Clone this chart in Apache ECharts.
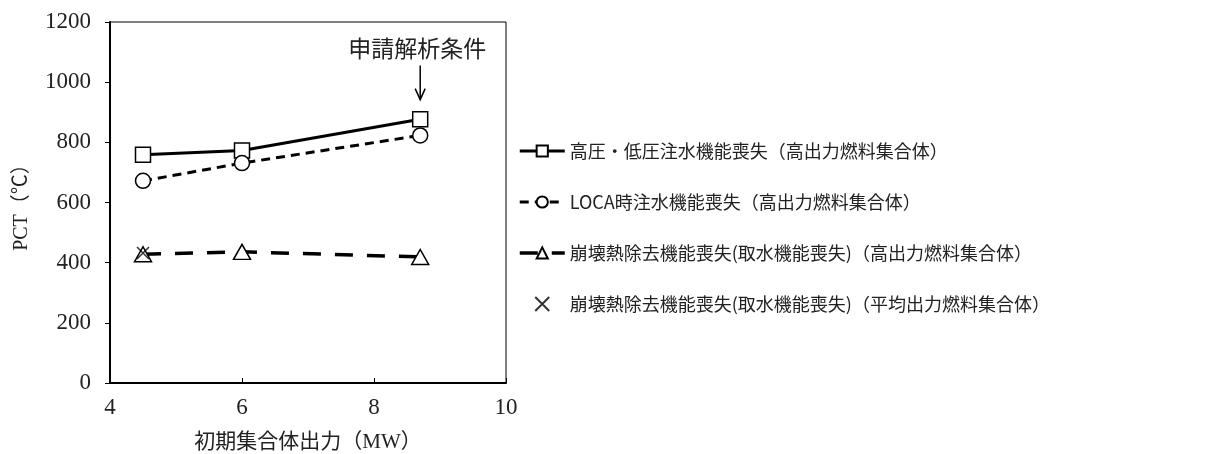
<!DOCTYPE html>
<html>
<head>
<meta charset="utf-8">
<script src="https://cdn.jsdelivr.net/npm/echarts@6/dist/echarts.min.js"></script>
<style>
html,body{margin:0;padding:0;background:#fff;}
#chart{width:1210px;height:454px;}
</style>
</head>
<body>
<div id="chart"></div>
<script>
// ---- data ----
const xPower = [4.5, 6, 8.7];
const seriesNames = [
  '高圧・低圧注水機能喪失（高出力燃料集合体）',
  'LOCA時注水機能喪失（高出力燃料集合体）',
  '崩壊熱除去機能喪失(取水機能喪失)（高出力燃料集合体）',
  '崩壊熱除去機能喪失(取水機能喪失)（平均出力燃料集合体）'
];
const pctHighLowInj = [759, 773, 877];
const pctLocaInj = [672, 731, 823];
const pctDecayHigh = [428, 436, 419];
const xDecayAvg = [4.5];
const pctDecayAvg = [432];
const xTicks = [4, 6, 8, 10];
const yTicks = [0, 200, 400, 600, 800, 1000, 1200];
const annotationText = '申請解析条件';
const annotationX = 8.7;
const annotationTextY = 1113;
const arrowFromY = 1055;
const arrowToY = 942;

const CJK = "'Liberation Serif','Noto Sans CJK JP'";
const chart = echarts.init(document.getElementById('chart'));

function pairs(xs, ys){ return xs.map((x,i)=>[x, ys[i]]); }

const lineStyles = [
  { color: '#000', width: 3, type: 'solid' },
  { color: '#000', width: 3, type: [9, 6] },
  { color: '#000', width: 3.5, type: [18, 14] }
];

const option = {
  backgroundColor: '#fff',
  animation: false,
  grid: { left: 110, top: 22, width: 396, height: 361, show: true, borderColor: '#000', borderWidth: 1, backgroundColor: 'transparent', outerBoundsMode: 'none', containLabel: false },
  xAxis: {
    type: 'value', min: xTicks[0], max: xTicks[xTicks.length-1], interval: 2,
    name: '初期集合体出力（MW）', nameLocation: 'middle', nameGap: 49,
    nameTextStyle: { fontFamily: CJK, fontSize: 21, color: '#222' },
    axisLine: { show: true, lineStyle: { color: '#000', width: 2 } },
    axisTick: { show: true, inside: true, length: 5, lineStyle: { color: '#000', width: 1 } },
    axisLabel: { fontFamily: "'Liberation Serif'", fontSize: 23, color: '#222', margin: 13, formatter: v => String(v) },
    splitLine: { show: false }
  },
  yAxis: {
    type: 'value', min: yTicks[0], max: yTicks[yTicks.length-1], interval: 200,
    name: 'PCT（℃）', nameLocation: 'middle', nameGap: 78, nameRotate: 90,
    nameTextStyle: { fontFamily: CJK, fontSize: 20, color: '#222' },
    axisLine: { show: true, lineStyle: { color: '#000', width: 2 } },
    axisTick: { show: true, inside: false, length: 5, lineStyle: { color: '#000', width: 1 } },
    axisLabel: { fontFamily: "'Liberation Serif'", fontSize: 23, color: '#222', margin: 19, formatter: v => String(v) },
    splitLine: { show: false }
  },
  legend: {
    orient: 'vertical', left: 513, top: 137,
    itemWidth: 45, itemHeight: 14, itemGap: 33,
    textStyle: { fontFamily: "'Noto Sans CJK JP'", fontSize: 18, color: '#222' },
    data: [
      { name: seriesNames[0], lineStyle: lineStyles[0] },
      { name: seriesNames[1], lineStyle: lineStyles[1] },
      { name: seriesNames[2], lineStyle: lineStyles[2] },
      { name: seriesNames[3] }
    ]
  },
  series: [
    {
      name: seriesNames[0], type: 'line', data: pairs(xPower, pctHighLowInj),
      symbol: 'rect', symbolSize: 15,
      lineStyle: lineStyles[0],
      itemStyle: { color: '#fff', borderColor: '#000', borderWidth: 1.5 },
      z: 3
    },
    {
      name: seriesNames[1], type: 'line', data: pairs(xPower, pctLocaInj),
      symbol: 'circle', symbolSize: 15,
      lineStyle: lineStyles[1],
      itemStyle: { color: '#fff', borderColor: '#000', borderWidth: 1.5 },
      z: 3
    },
    {
      name: seriesNames[2], type: 'line', data: pairs(xPower, pctDecayHigh),
      symbol: 'triangle', symbolSize: [17, 15],
      lineStyle: lineStyles[2],
      itemStyle: { color: '#fff', borderColor: '#000', borderWidth: 1.5 },
      z: 3
    },
    {
      name: seriesNames[3], type: 'scatter', data: pairs(xDecayAvg, pctDecayAvg),
      symbol: 'path://M0,0L10,10M10,0L0,10', symbolSize: 12,
      itemStyle: { color: 'transparent', borderColor: '#000', borderWidth: 1.5 },
      z: 4
    }
  ]
};
chart.setOption(option);

const tp = chart.convertToPixel({gridIndex:0}, [annotationX, annotationTextY]);
const a0 = chart.convertToPixel({gridIndex:0}, [annotationX, arrowFromY]);
const a1 = chart.convertToPixel({gridIndex:0}, [annotationX, arrowToY]);
chart.setOption({
  graphic: [
    { type: 'text', x: tp[0] - 3, y: tp[1], style: { text: annotationText, fontFamily: "'Noto Sans CJK JP'", fontSize: 23, fill: '#222', align: 'center', verticalAlign: 'middle' }, z: 10 },
    { type: 'line', shape: { x1: a0[0], y1: a0[1], x2: a1[0], y2: a1[1] }, style: { stroke: '#000', lineWidth: 1.5 }, z: 10 },
    { type: 'polyline', shape: { points: [[a1[0]-5, a1[1]-11], [a1[0], a1[1]], [a1[0]+5, a1[1]-11]] }, style: { stroke: '#000', lineWidth: 1.5, fill: null }, z: 10 }
  ]
});
</script>
</body>
</html>
